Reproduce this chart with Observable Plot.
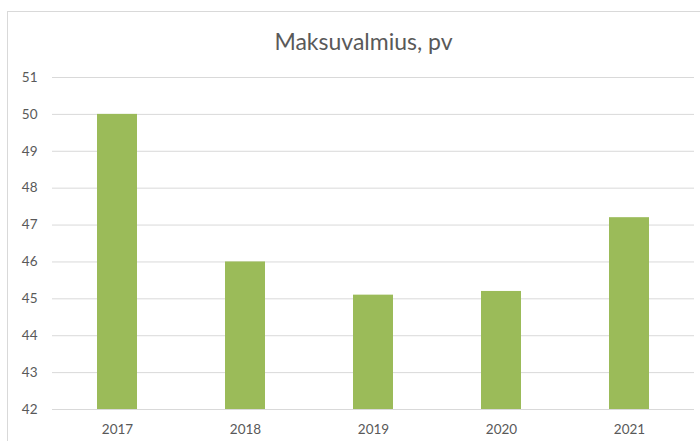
<!DOCTYPE html>
<html>
<head>
<meta charset="utf-8">
<script src="https://cdn.jsdelivr.net/npm/d3@7"></script>
<script src="https://cdn.jsdelivr.net/npm/@observablehq/plot@0.6"></script>
<style>
  html, body { margin: 0; padding: 0; background: #fff; overflow: hidden; }
  #wrap { position: relative; width: 700px; height: 441px; }
  #frame { position: absolute; left: 7px; top: 11px; width: 720px; height: 460px; border: 1px solid #d9d9d9; box-sizing: border-box; }
  #chart { position: absolute; left: 0; top: 0; }
</style>
</head>
<body>
<div id="wrap"><div id="frame"></div><div id="chart"></div></div>
<script>
const title = "Maksuvalmius, pv";
const years = ["2017", "2018", "2019", "2020", "2021"];
const values = [50, 46, 45.1, 45.2, 47.2];
const yTicks = [42, 43, 44, 45, 46, 47, 48, 49, 50, 51];

const data = years.map((y, i) => ({year: y, value: values[i]}));
const font = "Lato, 'Open Sans', sans-serif";

const plot = Plot.plot({
  width: 700,
  height: 441,
  marginTop: 77,
  marginBottom: 32,
  marginLeft: 52,
  marginRight: 6,
  style: {fontFamily: font, fontSize: "13.5px", color: "#595959", background: "transparent"},
  x: {domain: years, paddingInner: 0.69, paddingOuter: 0.345, label: null},
  y: {domain: [42, 51], label: null},
  marks: [
    Plot.gridY(yTicks, {stroke: "#d9d9d9", strokeOpacity: 1, strokeWidth: 1}),
    Plot.barY(data, {x: "year", y1: 42, y2: "value", fill: "#9bbb59"}),
    Plot.axisY(yTicks, {tickSize: 0, tickPadding: 15, fontSize: 13.5, label: null}),
    Plot.axisX({tickSize: 0, tickPadding: 15, fontSize: 13.5, label: null}),
    Plot.text([title], {frameAnchor: "top", lineAnchor: "middle", dy: -35, dx: -10, fontSize: 23, fill: "#595959", fontFamily: font})
  ]
});
document.getElementById("chart").appendChild(plot);
</script>
</body>
</html>
